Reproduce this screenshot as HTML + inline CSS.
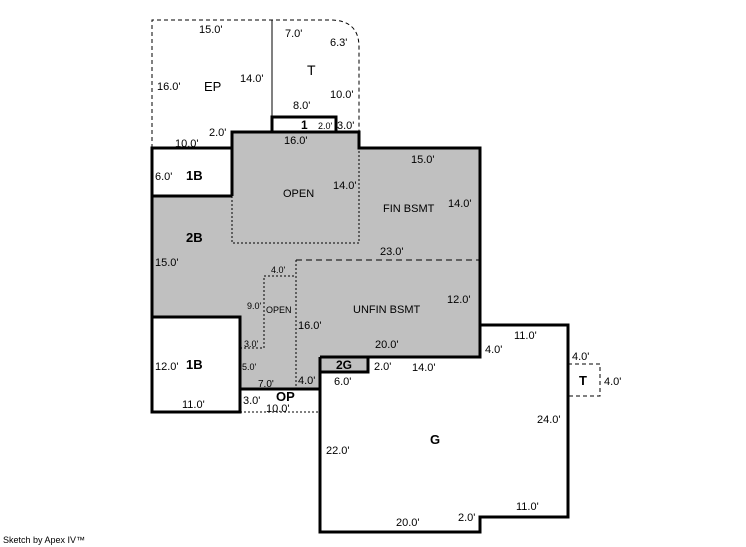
<!DOCTYPE html>
<html><head><style>body{margin:0;background:#fff}svg{display:block}text{font-family:"Liberation Sans",Arial,sans-serif;font-size:11px;fill:#000}.b{font-weight:bold;font-size:13px}</style></head><body>
<svg width="746" height="547" viewBox="0 0 746 547">
<rect width="746" height="547" fill="#fff"/>
<path d="M232,132H359V148H480V357H320V389H240V317H152V196H232Z" fill="#c0c0c0"/>
<path d="M320,357H368V372H320Z" fill="#c0c0c0"/>
<path d="M152,148V20H330Q359,20 359,47V132" fill="none" stroke="#000" stroke-dasharray="4,3"/>
<line x1="272" y1="20" x2="272" y2="117" stroke="#000"/>
<rect x="272" y="117" width="64" height="15" fill="#fff" stroke="#000" stroke-width="3"/>
<path d="M232,196V243H359V148" fill="none" stroke="#000" stroke-dasharray="2,2"/>
<path d="M296,260H480" stroke="#000" stroke-dasharray="6,4"/>
<path d="M296,260V389" stroke="#000" stroke-dasharray="2,2"/>
<path d="M240,348H264V276H296" fill="none" stroke="#000" stroke-dasharray="2,2"/>
<path d="M240,412H320" stroke="#000" stroke-dasharray="2,2"/>
<path d="M232,132H359V148H480V357H368V372H320V389H240V317H152V148H232Z" fill="none" stroke="#000" stroke-width="3"/>
<line x1="152" y1="196" x2="232" y2="196" stroke="#000" stroke-width="3"/>
<path d="M232,132V196" stroke="#000" stroke-width="3"/>
<rect x="152" y="317" width="88" height="95" fill="#fff" stroke="#000" stroke-width="3"/>
<path d="M320,357V532H480V517H568V325H480V357H368" fill="none" stroke="#000" stroke-width="3"/>
<line x1="320" y1="357" x2="368" y2="357" stroke="#000" stroke-width="3"/>
<line x1="368" y1="357" x2="368" y2="372" stroke="#000" stroke-width="3"/>
<line x1="320" y1="372" x2="368" y2="372" stroke="#000" stroke-width="3"/>
<line x1="240" y1="389" x2="320" y2="389" stroke="#000" stroke-width="3"/>
<path d="M568,364H600V396H568" fill="none" stroke="#000" stroke-dasharray="4,3"/>
<text x="199" y="33">15.0'</text>
<text x="285" y="37">7.0'</text>
<text x="330" y="46">6.3'</text>
<text x="157" y="90">16.0'</text>
<text x="204" y="91" style="font-size:13px">EP</text>
<text x="240" y="82">14.0'</text>
<text x="307" y="75" style="font-size:14px">T</text>
<text x="330" y="98">10.0'</text>
<text x="293" y="109">8.0'</text>
<text x="209" y="136">2.0'</text>
<text x="301" y="129" class="b" style="font-size:12px">1</text>
<text x="318" y="129" style="font-size:9px">2.0'</text>
<text x="337" y="129">3.0'</text>
<text x="175" y="147">10.0'</text>
<text x="284" y="144">16.0'</text>
<text x="411" y="163">15.0'</text>
<text x="155" y="180">6.0'</text>
<text x="186" y="180" class="b">1B</text>
<text x="333" y="189">14.0'</text>
<text x="283" y="197">OPEN</text>
<text x="383" y="212">FIN BSMT</text>
<text x="448" y="207">14.0'</text>
<text x="186" y="242" class="b">2B</text>
<text x="380" y="255">23.0'</text>
<text x="155" y="266">15.0'</text>
<text x="271" y="273" style="font-size:9px">4.0'</text>
<text x="447" y="303">12.0'</text>
<text x="247" y="309" style="font-size:9px">9.0'</text>
<text x="266" y="313" style="font-size:9px">OPEN</text>
<text x="353" y="313">UNFIN BSMT</text>
<text x="298" y="329">16.0'</text>
<text x="514" y="339">11.0'</text>
<text x="244" y="347" style="font-size:9px">3.0'</text>
<text x="375" y="348">20.0'</text>
<text x="485" y="353">4.0'</text>
<text x="242" y="370" style="font-size:9px">5.0'</text>
<text x="155" y="370">12.0'</text>
<text x="186" y="369" class="b">1B</text>
<text x="336" y="369" class="b" style="font-size:12px">2G</text>
<text x="374" y="370">2.0'</text>
<text x="412" y="371">14.0'</text>
<text x="572" y="360">4.0'</text>
<text x="579" y="385" class="b">T</text>
<text x="604" y="385">4.0'</text>
<text x="258" y="387" style="font-size:10px">7.0'</text>
<text x="298" y="384">4.0'</text>
<text x="334" y="385">6.0'</text>
<text x="243" y="404">3.0'</text>
<text x="276" y="401" class="b">OP</text>
<text x="182" y="408">11.0'</text>
<text x="266" y="412">10.0'</text>
<text x="537" y="423">24.0'</text>
<text x="430" y="444" class="b">G</text>
<text x="326" y="454">22.0'</text>
<text x="516" y="510">11.0'</text>
<text x="458" y="521">2.0'</text>
<text x="396" y="526">20.0'</text>
<text x="3" y="543" style="font-size:9px">Sketch by Apex IV™</text>
</svg></body></html>
